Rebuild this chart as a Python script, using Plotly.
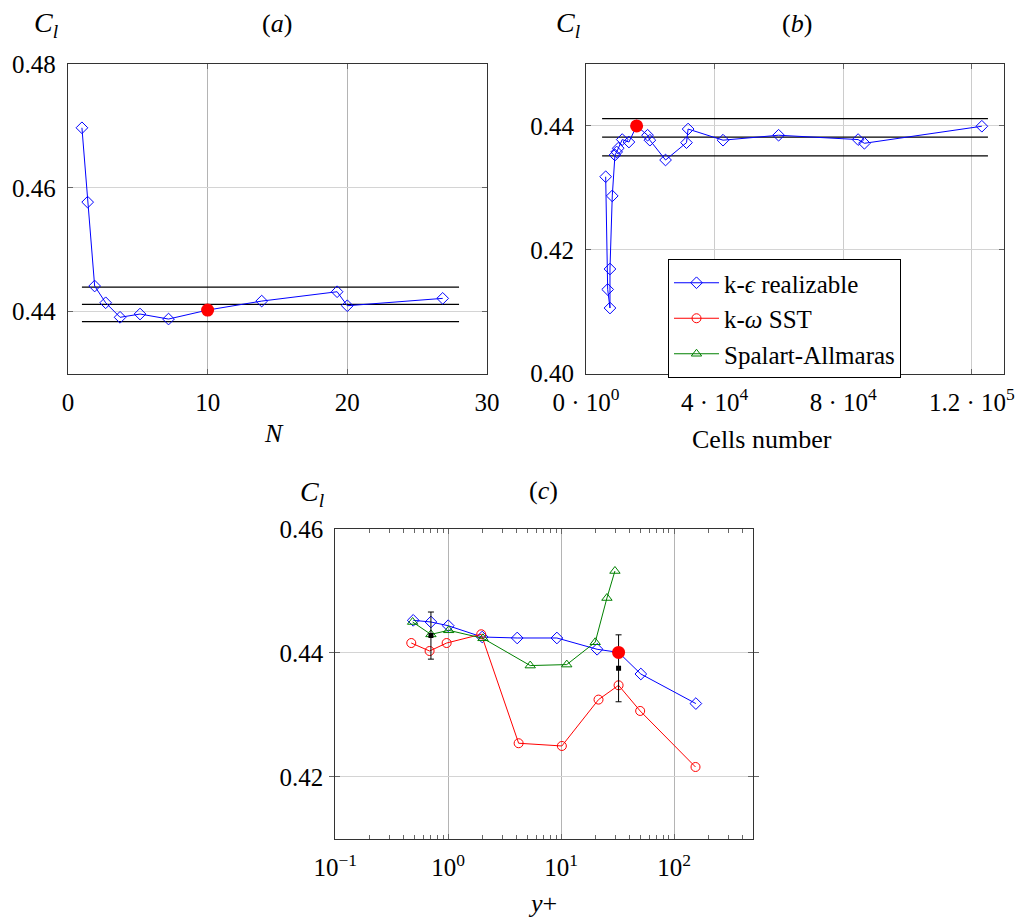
import plotly.graph_objects as go

# ---------------- data ----------------
# (a) convergence with N
a_N = [1.0, 1.41, 1.91, 2.70, 3.73, 5.16, 7.2, 10.0, 13.87, 19.27, 20.0, 26.83]
a_Cl = [0.4697, 0.4577, 0.44415, 0.44145, 0.4391, 0.43963, 0.43882, 0.44027,
        0.44172, 0.44323, 0.44097, 0.44216]
a_sel_N = [10.0]
a_sel_Cl = [0.44027]
a_band_x = [1.0, 28.0]
a_band = [0.44398, 0.44119, 0.43839]

# (b) mesh convergence
b_cells = [6113, 6734, 7448, 7448, 8162, 9000, 9526, 10020, 11264, 13342, 15730,
           19144, 19860, 24730, 31250, 31747, 42610, 59890, 84620, 86580, 123100]
b_Cl = [0.4318, 0.4136, 0.4106, 0.4169, 0.4287, 0.4353, 0.4358, 0.4364, 0.4378,
        0.4374, 0.4400, 0.4385, 0.4377, 0.4345, 0.4373, 0.4395, 0.4377, 0.4385,
        0.4378, 0.4372, 0.43995]
b_sel_cells = [15730]
b_sel_Cl = [0.4400]
b_band_x = [5000, 125000]
b_band = [0.44119, 0.43818, 0.43517]
b_tickvals = [0, 40000, 80000, 120000]
b_ticktext = ["0 · 10<sup>0</sup>", "4 · 10<sup>4</sup>", "8 · 10<sup>4</sup>", "1.2 · 10<sup>5</sup>"]

# (c) y+ study
ke_yp = [0.490, 0.703, 1.0, 2.0, 4.08, 9.16, 20.8, 32.2, 50.7, 155.6]
ke_Cl = [0.44527, 0.4450, 0.4444, 0.44258, 0.44242, 0.44242, 0.4406, 0.4401, 0.43661, 0.43184]
kw_yp = [0.471, 0.684, 0.968, 1.96, 4.20, 10.14, 21.4, 32.2, 50.0, 154.5]
kw_Cl = [0.44161, 0.44032, 0.44161, 0.44302, 0.42544, 0.4250, 0.43248, 0.43479, 0.43065, 0.42161]
sa_yp = [0.484, 0.703, 1.01, 2.03, 5.32, 11.2, 20.0, 25.4, 29.9]
sa_Cl = [0.4450, 0.4430, 0.44366, 0.44237, 0.43797, 0.43813, 0.44173, 0.44887, 0.45323]
err_yp = [0.703, 32.2]
err_Cl = [0.44281, 0.43753]
err_val = [0.0038, 0.0054]
c_sel_yp = [32.2]
c_sel_Cl = [0.4401]
c_tickvals = [0.1, 1, 10, 100]
c_ticktext = ["10<sup>−1</sup>", "10<sup>0</sup>", "10<sup>1</sup>", "10<sup>2</sup>"]
c_minor = [m * 10 ** e for e in (-1, 0, 1, 2) for m in range(2, 10) if m * 10 ** e < 500]

# ---------------- style ----------------
BLUE = "#0000ff"
RED = "#ff0000"
GREEN = "#008000"
FONT = "Liberation Serif, Times New Roman, serif"

fig = go.Figure()

def series(x, y, color, symbol, name, xa, ya, show=False):
    fig.add_trace(go.Scatter(
        x=x, y=y, mode="lines+markers", name=name, showlegend=show,
        line=dict(color=color, width=1),
        marker=dict(symbol=symbol, size=9, color=color, line=dict(color=color, width=1)),
        xaxis=xa, yaxis=ya))

def band(xr, levels, xa, ya):
    for lv in levels:
        fig.add_trace(go.Scatter(x=xr, y=[lv, lv], mode="lines", showlegend=False,
                                 line=dict(color="black", width=1.2), xaxis=xa, yaxis=ya,
                                 hoverinfo="skip"))

def sel(x, y, xa, ya):
    fig.add_trace(go.Scatter(x=x, y=y, mode="markers", showlegend=False,
                             marker=dict(symbol="circle", size=13, color=RED),
                             xaxis=xa, yaxis=ya))

# (a)
band(a_band_x, a_band, "x", "y")
series(a_N, a_Cl, BLUE, "diamond-open", "k-ε realizable", "x", "y")
sel(a_sel_N, a_sel_Cl, "x", "y")

# (b)
band(b_band_x, b_band, "x2", "y2")
series(b_cells, b_Cl, BLUE, "diamond-open", "k-ε realizable", "x2", "y2")
sel(b_sel_cells, b_sel_Cl, "x2", "y2")

# (c)
series(ke_yp, ke_Cl, BLUE, "diamond-open", "k-<i>ϵ</i> realizable", "x3", "y3", show=True)
series(kw_yp, kw_Cl, RED, "circle-open", "k-<i>ω</i> SST", "x3", "y3", show=True)
series(sa_yp, sa_Cl, GREEN, "triangle-up-open", "Spalart-Allmaras", "x3", "y3", show=True)
fig.add_trace(go.Scatter(
    x=err_yp, y=err_Cl, mode="markers", showlegend=False,
    marker=dict(symbol="square", size=5, color="black"),
    error_y=dict(type="data", array=err_val, color="black", thickness=1, width=3),
    xaxis="x3", yaxis="y3"))
sel(c_sel_yp, c_sel_Cl, "x3", "y3")

# invisible trace so the minor-tick overlay axis is drawn
fig.add_trace(go.Scatter(x=[1], y=[0.43], mode="markers", marker=dict(opacity=0),
                         showlegend=False, hoverinfo="skip", xaxis="x4", yaxis="y3"))

tickfont = dict(family=FONT, size=25, color="black")
common = dict(showline=True, linecolor="#333333", linewidth=1.2, mirror="allticks",
              ticks="inside", ticklen=5, tickcolor="#666666", tickfont=tickfont,
              zeroline=False, showgrid=True, automargin=False, ticklabelstandoff=6)

c_dom = [0.3290, 0.7392]
fig.update_layout(
    width=1019, height=917, margin=dict(l=0, r=0, t=0, b=0, autoexpand=False),
    paper_bgcolor="white", plot_bgcolor="white",
    font=dict(family=FONT, size=25, color="black"),
    showlegend=True,
    xaxis=dict(domain=[0.0667, 0.4779], range=[0, 30], tickvals=[0, 10, 20, 30],
               gridcolor="#b4b4b4", anchor="y", **common),
    yaxis=dict(domain=[0.5925, 0.9302], range=[0.43, 0.48], tickvals=[0.44, 0.46, 0.48],
               tickformat=".2f", gridcolor="#d4d4d4", anchor="x", **common),
    xaxis2=dict(domain=[0.5751, 0.9853], range=[0, 130000], tickvals=b_tickvals,
                ticktext=b_ticktext, gridcolor="#cccccc", anchor="y2", **common),
    yaxis2=dict(domain=[0.5925, 0.9302], range=[0.40, 0.45], tickvals=[0.40, 0.42, 0.44],
                tickformat=".2f", gridcolor="#d4d4d4", anchor="x2", **common),
    xaxis3=dict(domain=c_dom, type="log", range=[-1, 2.7], tickvals=c_tickvals,
                ticktext=c_ticktext, gridcolor="#b4b4b4", anchor="y3", **common),
    xaxis4=dict(domain=c_dom, type="log", range=[-1, 2.7], tickvals=c_minor,
                showticklabels=False, showgrid=False, showline=False, zeroline=False,
                ticks="inside", ticklen=4, tickcolor="#666666", mirror="allticks",
                overlaying="x3", anchor="y3", automargin=False),
    yaxis3=dict(domain=[0.0851, 0.4231], range=[0.41, 0.46], tickvals=[0.42, 0.44, 0.46],
                tickformat=".2f", gridcolor="#d4d4d4", anchor="x3", **common),
    legend=dict(x=668 / 1019, y=1 - 259 / 917, xanchor="left", yanchor="top",
                bgcolor="white", bordercolor="black", borderwidth=1,
                font=dict(family=FONT, size=25, color="black"),
                tracegroupgap=0, itemwidth=45),
)

def ann(text, x, y, size=26):
    fig.add_annotation(text=text, x=x / 1019, y=1 - y / 917, xref="paper", yref="paper",
                       showarrow=False, xanchor="center", yanchor="middle",
                       font=dict(family=FONT, size=size, color="black"))

ann("<i>C<sub>l</sub></i>", 46, 25, 28)
ann("(<i>a</i>)", 277, 24)
ann("<i>C<sub>l</sub></i>", 568, 25, 28)
ann("(<i>b</i>)", 797, 24)
ann("<i>N</i>", 274, 433)
ann("Cells number", 762, 439)
ann("<i>C<sub>l</sub></i>", 312, 494, 28)
ann("(<i>c</i>)", 543, 490)
ann("<i>y</i>+", 542, 903)

fig.write_html("out.html", config={"displayModeBar": False},
               post_script="document.body.style.margin='0';document.body.style.overflow='hidden';")
